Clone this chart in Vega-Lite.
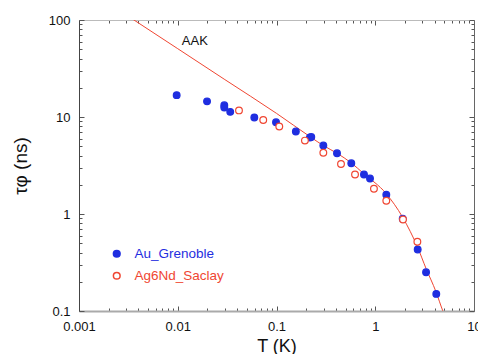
{
  "$schema": "https://vega.github.io/schema/vega-lite/v6.json",
  "autosize": "none",
  "width": 395,
  "height": 291,
  "padding": {"left": 79, "top": 20, "right": 4, "bottom": 43},
  "background": "white",
  "config": {
    "view": {"stroke": null},
    "font": "Liberation Sans",
    "axis": {"labelFont": "Liberation Sans", "titleFont": "Liberation Sans", "labelFontSize": 13, "labelColor": "#111", "titleColor": "#111", "titleFontWeight": "normal", "grid": false}
  },
  "datasets": {
    "pts": [
      {"series": "Au_Grenoble", "T": 0.00975, "tau": 16.8},
      {"series": "Au_Grenoble", "T": 0.0198, "tau": 14.5},
      {"series": "Au_Grenoble", "T": 0.0296, "tau": 13.2},
      {"series": "Au_Grenoble", "T": 0.0296, "tau": 12.5},
      {"series": "Au_Grenoble", "T": 0.034, "tau": 11.3},
      {"series": "Au_Grenoble", "T": 0.0596, "tau": 9.9},
      {"series": "Au_Grenoble", "T": 0.0989, "tau": 8.83},
      {"series": "Au_Grenoble", "T": 0.157, "tau": 7.08},
      {"series": "Au_Grenoble", "T": 0.218, "tau": 6.14},
      {"series": "Au_Grenoble", "T": 0.225, "tau": 6.22},
      {"series": "Au_Grenoble", "T": 0.298, "tau": 5.08},
      {"series": "Au_Grenoble", "T": 0.41, "tau": 4.23},
      {"series": "Au_Grenoble", "T": 0.572, "tau": 3.33},
      {"series": "Au_Grenoble", "T": 0.769, "tau": 2.55},
      {"series": "Au_Grenoble", "T": 0.885, "tau": 2.32},
      {"series": "Au_Grenoble", "T": 1.294, "tau": 1.58},
      {"series": "Au_Grenoble", "T": 1.897, "tau": 0.893},
      {"series": "Au_Grenoble", "T": 2.69, "tau": 0.431},
      {"series": "Au_Grenoble", "T": 3.27, "tau": 0.251},
      {"series": "Au_Grenoble", "T": 4.15, "tau": 0.15},
      {"series": "Ag6Nd_Saclay", "T": 0.0417, "tau": 11.7},
      {"series": "Ag6Nd_Saclay", "T": 0.0734, "tau": 9.33},
      {"series": "Ag6Nd_Saclay", "T": 0.1067, "tau": 7.98},
      {"series": "Ag6Nd_Saclay", "T": 0.194, "tau": 5.71},
      {"series": "Ag6Nd_Saclay", "T": 0.298, "tau": 4.28},
      {"series": "Ag6Nd_Saclay", "T": 0.45, "tau": 3.28},
      {"series": "Ag6Nd_Saclay", "T": 0.624, "tau": 2.55},
      {"series": "Ag6Nd_Saclay", "T": 0.97, "tau": 1.82},
      {"series": "Ag6Nd_Saclay", "T": 1.294, "tau": 1.37},
      {"series": "Ag6Nd_Saclay", "T": 1.91, "tau": 0.879},
      {"series": "Ag6Nd_Saclay", "T": 2.67, "tau": 0.518}
    ],
    "aak": [
      {"T": 0.003, "tau": 113},
      {"T": 0.01, "tau": 50.6},
      {"T": 0.03, "tau": 24.3},
      {"T": 0.1, "tau": 10.9},
      {"T": 0.223, "tau": 6.18},
      {"T": 0.298, "tau": 5.08},
      {"T": 0.41, "tau": 4.23},
      {"T": 0.572, "tau": 3.36},
      {"T": 0.769, "tau": 2.59},
      {"T": 1.285, "tau": 1.63},
      {"T": 1.897, "tau": 0.922},
      {"T": 2.69, "tau": 0.452},
      {"T": 3.27, "tau": 0.274},
      {"T": 4.12, "tau": 0.158},
      {"T": 4.82, "tau": 0.101},
      {"T": 5.3, "tau": 0.08}
    ],
    "lbl": [{"T": 0.011, "tau": 61, "text": "AAK"}]
  },
  "resolve": {"axis": {"x": "independent", "y": "independent"}},
  "layer": [
    {
      "data": {"name": "aak"},
      "mark": {"type": "line", "color": "#f04632", "strokeWidth": 1, "interpolate": "monotone", "clip": true},
      "encoding": {
        "x": {"field": "T", "type": "quantitative", "scale": {"type": "log", "domain": [0.001, 10]},
          "axis": {"orient": "bottom", "title": "T (K)", "titleFontSize": 18, "titlePadding": 4,
            "values": [0.001,0.002,0.003,0.004,0.005,0.006,0.007,0.008,0.009,0.01,0.02,0.03,0.04,0.05,0.06,0.07,0.08,0.09,0.1,0.2,0.3,0.4,0.5,0.6,0.7,0.8,0.9,1,2,3,4,5,6,7,8,9,10],
            "labelExpr": "abs(log(datum.value)/LN10 - round(log(datum.value)/LN10)) < 0.001 ? format(datum.value, '~g') : ''",
            "tickSize": {"condition": {"test": "abs(log(datum.value)/LN10 - round(log(datum.value)/LN10)) < 0.001", "value": -5}, "value": -3},
            "tickColor": "#555", "domainColor": "#aaaaaa", "domainWidth": 2, "labelPadding": 14, "labelFlush": false}},
        "y": {"field": "tau", "type": "quantitative", "scale": {"type": "log", "domain": [0.1, 100]},
          "axis": {"orient": "left", "title": "τφ (ns)", "titleFontSize": 19, "titlePadding": 18,
            "values": [0.1,0.2,0.3,0.4,0.5,0.6,0.7,0.8,0.9,1,2,3,4,5,6,7,8,9,10,20,30,40,50,60,70,80,90,100],
            "labelExpr": "abs(log(datum.value)/LN10 - round(log(datum.value)/LN10)) < 0.001 ? format(datum.value, '~g') : ''",
            "tickSize": {"condition": {"test": "abs(log(datum.value)/LN10 - round(log(datum.value)/LN10)) < 0.001", "value": -5}, "value": -3},
            "tickColor": "#555", "domainColor": "#444", "domainWidth": 1, "labelPadding": 14}}
      }
    },
    {
      "data": {"name": "aak"},
      "mark": {"type": "line", "opacity": 0, "clip": true},
      "encoding": {
        "x": {"field": "T", "type": "quantitative",
          "axis": {"orient": "top", "title": null, "labels": false,
            "values": [0.001,0.002,0.003,0.004,0.005,0.006,0.007,0.008,0.009,0.01,0.02,0.03,0.04,0.05,0.06,0.07,0.08,0.09,0.1,0.2,0.3,0.4,0.5,0.6,0.7,0.8,0.9,1,2,3,4,5,6,7,8,9,10],
            "tickSize": {"condition": {"test": "abs(log(datum.value)/LN10 - round(log(datum.value)/LN10)) < 0.001", "value": -5}, "value": -3},
            "tickColor": "#555", "domainColor": "#bbbbbb", "domainWidth": 1}},
        "y": {"field": "tau", "type": "quantitative",
          "axis": {"orient": "right", "title": null, "labels": false,
            "values": [0.1,0.2,0.3,0.4,0.5,0.6,0.7,0.8,0.9,1,2,3,4,5,6,7,8,9,10,20,30,40,50,60,70,80,90,100],
            "tickSize": {"condition": {"test": "abs(log(datum.value)/LN10 - round(log(datum.value)/LN10)) < 0.001", "value": -5}, "value": -3},
            "tickColor": "#555", "domainColor": "#666", "domainWidth": 1}}
      }
    },
    {
      "data": {"name": "pts"},
      "mark": {"type": "point", "shape": "circle", "size": 45, "strokeWidth": 1.2, "opacity": 1},
      "encoding": {
        "x": {"field": "T", "type": "quantitative", "axis": null},
        "y": {"field": "tau", "type": "quantitative", "axis": null},
        "stroke": {"field": "series", "type": "nominal", "title": null,
          "scale": {"domain": ["Au_Grenoble", "Ag6Nd_Saclay"], "range": ["#1f2ee0", "#f04632"]},
          "legend": {"orient": "none", "legendX": 31, "legendY": 227, "labelFontSize": 13.5, "labelFont": "Liberation Sans", "symbolSize": 45, "rowPadding": 7, "labelOffset": 11,
            "labelColor": {"expr": "datum.value === 'Au_Grenoble' ? '#1f2ee0' : '#f04632'"}}},
        "fill": {"field": "series", "type": "nominal", "title": null,
          "scale": {"domain": ["Au_Grenoble", "Ag6Nd_Saclay"], "range": ["#1f2ee0", "white"]}}
      }
    },
    {
      "data": {"name": "lbl"},
      "mark": {"type": "text", "align": "left", "baseline": "middle", "fontSize": 13, "font": "Liberation Sans", "color": "#111"},
      "encoding": {
        "x": {"field": "T", "type": "quantitative", "axis": null},
        "y": {"field": "tau", "type": "quantitative", "axis": null},
        "text": {"field": "text"}
      }
    }
  ]
}
